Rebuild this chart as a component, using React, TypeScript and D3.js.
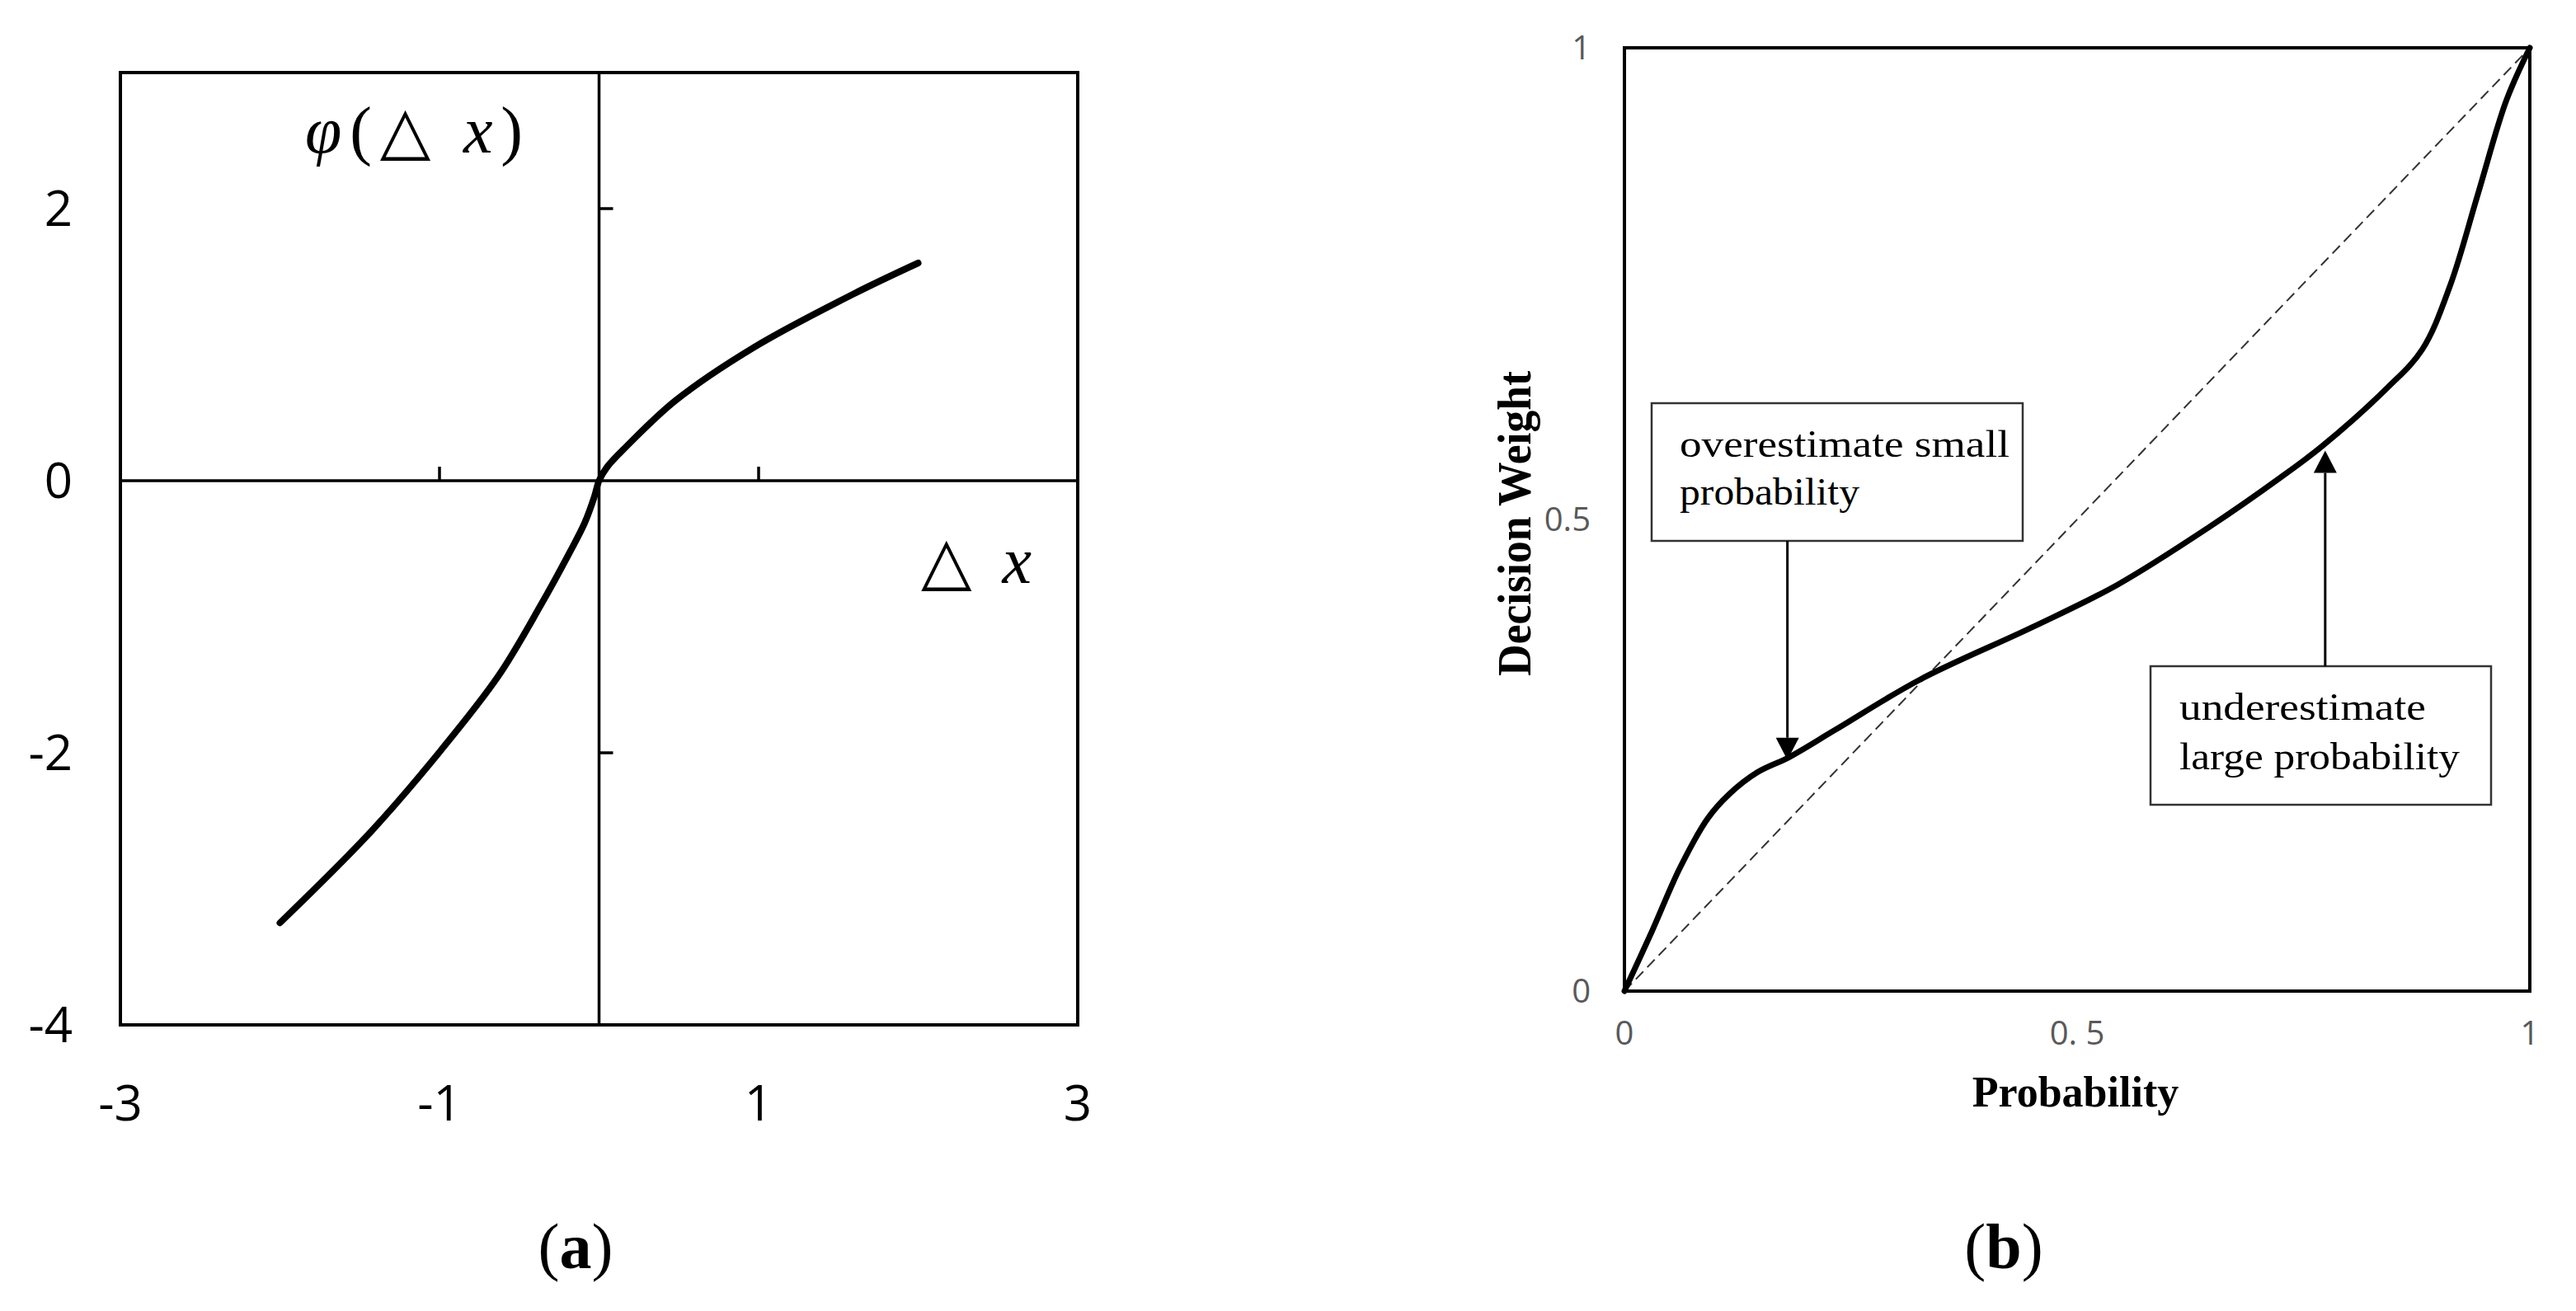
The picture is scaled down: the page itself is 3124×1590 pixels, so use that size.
import React from "react";
import * as d3 from "d3";

// ---------- Panel (a): value function ----------
const aX = [-2.0, -1.43, -0.99, -0.63, -0.365, -0.19, -0.09, -0.03, 0, 0.05, 0.17, 0.48, 0.97, 1.59, 2.0];
const aY = [-3.25, -2.58, -1.98, -1.434, -0.914, -0.54, -0.31, -0.12, 0, 0.1, 0.25, 0.59, 0.98, 1.37, 1.6];
const aXTicks = [-3, -1, 1, 3];
const aYTicks = [-4, -2, 0, 2];
const aXInner = [-1, 1];
const aYInner = [-2, 2];

// ---------- Panel (b): probability weighting ----------
const bX = [0, 0.03, 0.061, 0.092, 0.116, 0.147, 0.182, 0.233, 0.326, 0.451, 0.545, 0.646, 0.724, 0.771, 0.842, 0.881, 0.912, 0.943, 0.974, 1];
const bY = [0, 0.0625, 0.13, 0.183, 0.209, 0.232, 0.248, 0.277, 0.33, 0.386, 0.431, 0.492, 0.544, 0.578, 0.639, 0.68, 0.748, 0.846, 0.944, 1];
const bXTicks = [0, 0.5, 1];
const bXTickLabels = ["0", "0. 5", "1"];
const bYTicks = [0, 0.5, 1];
const bYTickLabels = ["0", "0.5", "1"];
const annotations = [
  { lines: ["overestimate small", "probability"], lens: [400, 218], tipX: 0.18, tipY: 0.245 },
  { lines: ["underestimate", "large probability"], lens: [299, 340], tipX: 0.774, tipY: 0.573 },
];

export default function App() {
  // scales (a)
  const ax = d3.scaleLinear().domain([-3, 3]).range([146, 1307]);
  const ay = d3.scaleLinear().domain([-4, 3]).range([1243, 88]);
  const lineA = d3
    .line<number>()
    .x((_, i) => ax(aX[i]))
    .y((d) => ay(d))
    .curve(d3.curveCatmullRom.alpha(0.5));

  // scales (b)
  const bx = d3.scaleLinear().domain([0, 1]).range([1970, 3068]);
  const by = d3.scaleLinear().domain([0, 1]).range([1202, 58]);
  const lineB = d3
    .line<number>()
    .x((_, i) => bx(bX[i]))
    .y((d) => by(d))
    .curve(d3.curveCatmullRom.alpha(0.5));

  const boxes = [
    { x0: 2003, y0: 489, x1: 2453, y1: 656, tx: 2037, ty: [554, 612] },
    { x0: 2608, y0: 808, x1: 3021, y1: 976, tx: 2643, ty: [873, 933] },
  ];

  const tickFont = "'Open Sans', 'Liberation Sans', sans-serif";
  const serif = "'Liberation Serif', 'DejaVu Serif', serif";

  return (
    <svg
      width={3124}
      height={1590}
      style={{ position: "absolute", left: 0, top: 0, background: "#fff" }}
    >
      <rect x={0} y={0} width={3124} height={1590} fill="#fff" />
      {/* ===== Panel (a) ===== */}
      <g>
        <rect
          x={ax(-3)}
          y={ay(3)}
          width={ax(3) - ax(-3)}
          height={ay(-4) - ay(3)}
          fill="none"
          stroke="#000"
          strokeWidth={4}
        />
        {/* inner axes */}
        <line x1={ax(-3)} x2={ax(3)} y1={ay(0)} y2={ay(0)} stroke="#000" strokeWidth={3.5} />
        <line x1={ax(0)} x2={ax(0)} y1={ay(3)} y2={ay(-4)} stroke="#000" strokeWidth={3.5} />
        {aXInner.map((t) => (
          <line key={"axi" + t} x1={ax(t)} x2={ax(t)} y1={ay(0)} y2={ay(0) - 17} stroke="#000" strokeWidth={3.5} />
        ))}
        {aYInner.map((t) => (
          <line key={"ayi" + t} x1={ax(0)} x2={ax(0) + 17} y1={ay(t)} y2={ay(t)} stroke="#000" strokeWidth={3.5} />
        ))}
        {/* tick labels */}
        {aXTicks.map((t) => (
          <text key={"axt" + t} x={ax(t)} y={1359} textAnchor="middle" fontFamily={tickFont} fontSize={60} fill="#000">
            {t}
          </text>
        ))}
        {aYTicks.map((t) => (
          <text key={"ayt" + t} x={88} y={ay(t)} dy="0.35em" textAnchor="end" fontFamily={tickFont} fontSize={60} fill="#000">
            {t}
          </text>
        ))}
        {/* curve */}
        <path d={lineA(aY) || ""} fill="none" stroke="#000" strokeWidth={8} strokeLinecap="round" strokeLinejoin="round" />
        {/* axis titles */}
        <text x={370} y={185} fontFamily={serif} fontSize={80} fill="#000" textLength={264} lengthAdjust="spacing">
          <tspan fontStyle="italic">φ</tspan>
          <tspan>(△ </tspan>
          <tspan fontStyle="italic">x</tspan>
          <tspan>)</tspan>
        </text>
        <text x={1117} y={707} fontFamily={serif} fontSize={80} fill="#000" textLength={134} lengthAdjust="spacing">
          <tspan>△ </tspan>
          <tspan fontStyle="italic">x</tspan>
        </text>
        <text x={698} y={1538} textAnchor="middle" fontFamily={serif} fontSize={78} fill="#000">
          <tspan>(</tspan>
          <tspan fontWeight="bold">a</tspan>
          <tspan>)</tspan>
        </text>
      </g>

      {/* ===== Panel (b) ===== */}
      <g>
        <line x1={bx(0)} y1={by(0)} x2={bx(1)} y2={by(1)} stroke="#333" strokeWidth={2} strokeDasharray="13 7" />
        <rect
          x={bx(0)}
          y={by(1)}
          width={bx(1) - bx(0)}
          height={by(0) - by(1)}
          fill="none"
          stroke="#000"
          strokeWidth={4}
        />
        <path d={lineB(bY) || ""} fill="none" stroke="#000" strokeWidth={7} strokeLinecap="round" strokeLinejoin="round" />
        {bXTicks.map((t, i) => (
          <text key={"bxt" + t} x={bx(t)} y={1253} dy="0.35em" textAnchor="middle" fontFamily={tickFont} fontSize={40} fill="#595959">
            {bXTickLabels[i]}
          </text>
        ))}
        {bYTicks.map((t, i) => (
          <text key={"byt" + t} x={1929} y={by(t)} dy="0.35em" textAnchor="end" fontFamily={tickFont} fontSize={40} fill="#595959">
            {bYTickLabels[i]}
          </text>
        ))}
        <text x={2517} y={1342} textAnchor="middle" fontFamily={serif} fontWeight="bold" fontSize={52} fill="#000">
          Probability
        </text>
        <text
          transform={`translate(1856,${635}) rotate(-90)`}
          textAnchor="middle"
          fontFamily={serif}
          fontWeight="bold"
          fontSize={58}
          fill="#000"
          textLength={370}
          lengthAdjust="spacingAndGlyphs"
        >
          Decision Weight
        </text>

        {/* annotations */}
        {annotations.map((a, k) => {
          const b = boxes[k];
          const tx = bx(a.tipX);
          const ty = by(a.tipY);
          const down = k === 0;
          const start = down ? b.y1 : b.y0;
          const headLen = 27;
          const headW = 14;
          const baseY = down ? ty - headLen : ty + headLen;
          return (
            <g key={"ann" + k}>
              <rect x={b.x0} y={b.y0} width={b.x1 - b.x0} height={b.y1 - b.y0} fill="#fff" stroke="#333" strokeWidth={2.5} />
              {a.lines.map((ln, j) => (
                <text
                  key={j}
                  x={b.tx}
                  y={b.ty[j]}
                  fontFamily={serif}
                  fontSize={46}
                  fill="#000"
                  textLength={a.lens[j]}
                  lengthAdjust="spacingAndGlyphs"
                >
                  {ln}
                </text>
              ))}
              <line x1={tx} x2={tx} y1={start} y2={baseY} stroke="#000" strokeWidth={3} />
              <path d={`M${tx},${ty} L${tx - headW},${baseY} L${tx + headW},${baseY} Z`} fill="#000" />
            </g>
          );
        })}

        <text x={2430} y={1538} textAnchor="middle" fontFamily={serif} fontSize={78} fill="#000">
          <tspan>(</tspan>
          <tspan fontWeight="bold">b</tspan>
          <tspan>)</tspan>
        </text>
      </g>
    </svg>
  );
}
